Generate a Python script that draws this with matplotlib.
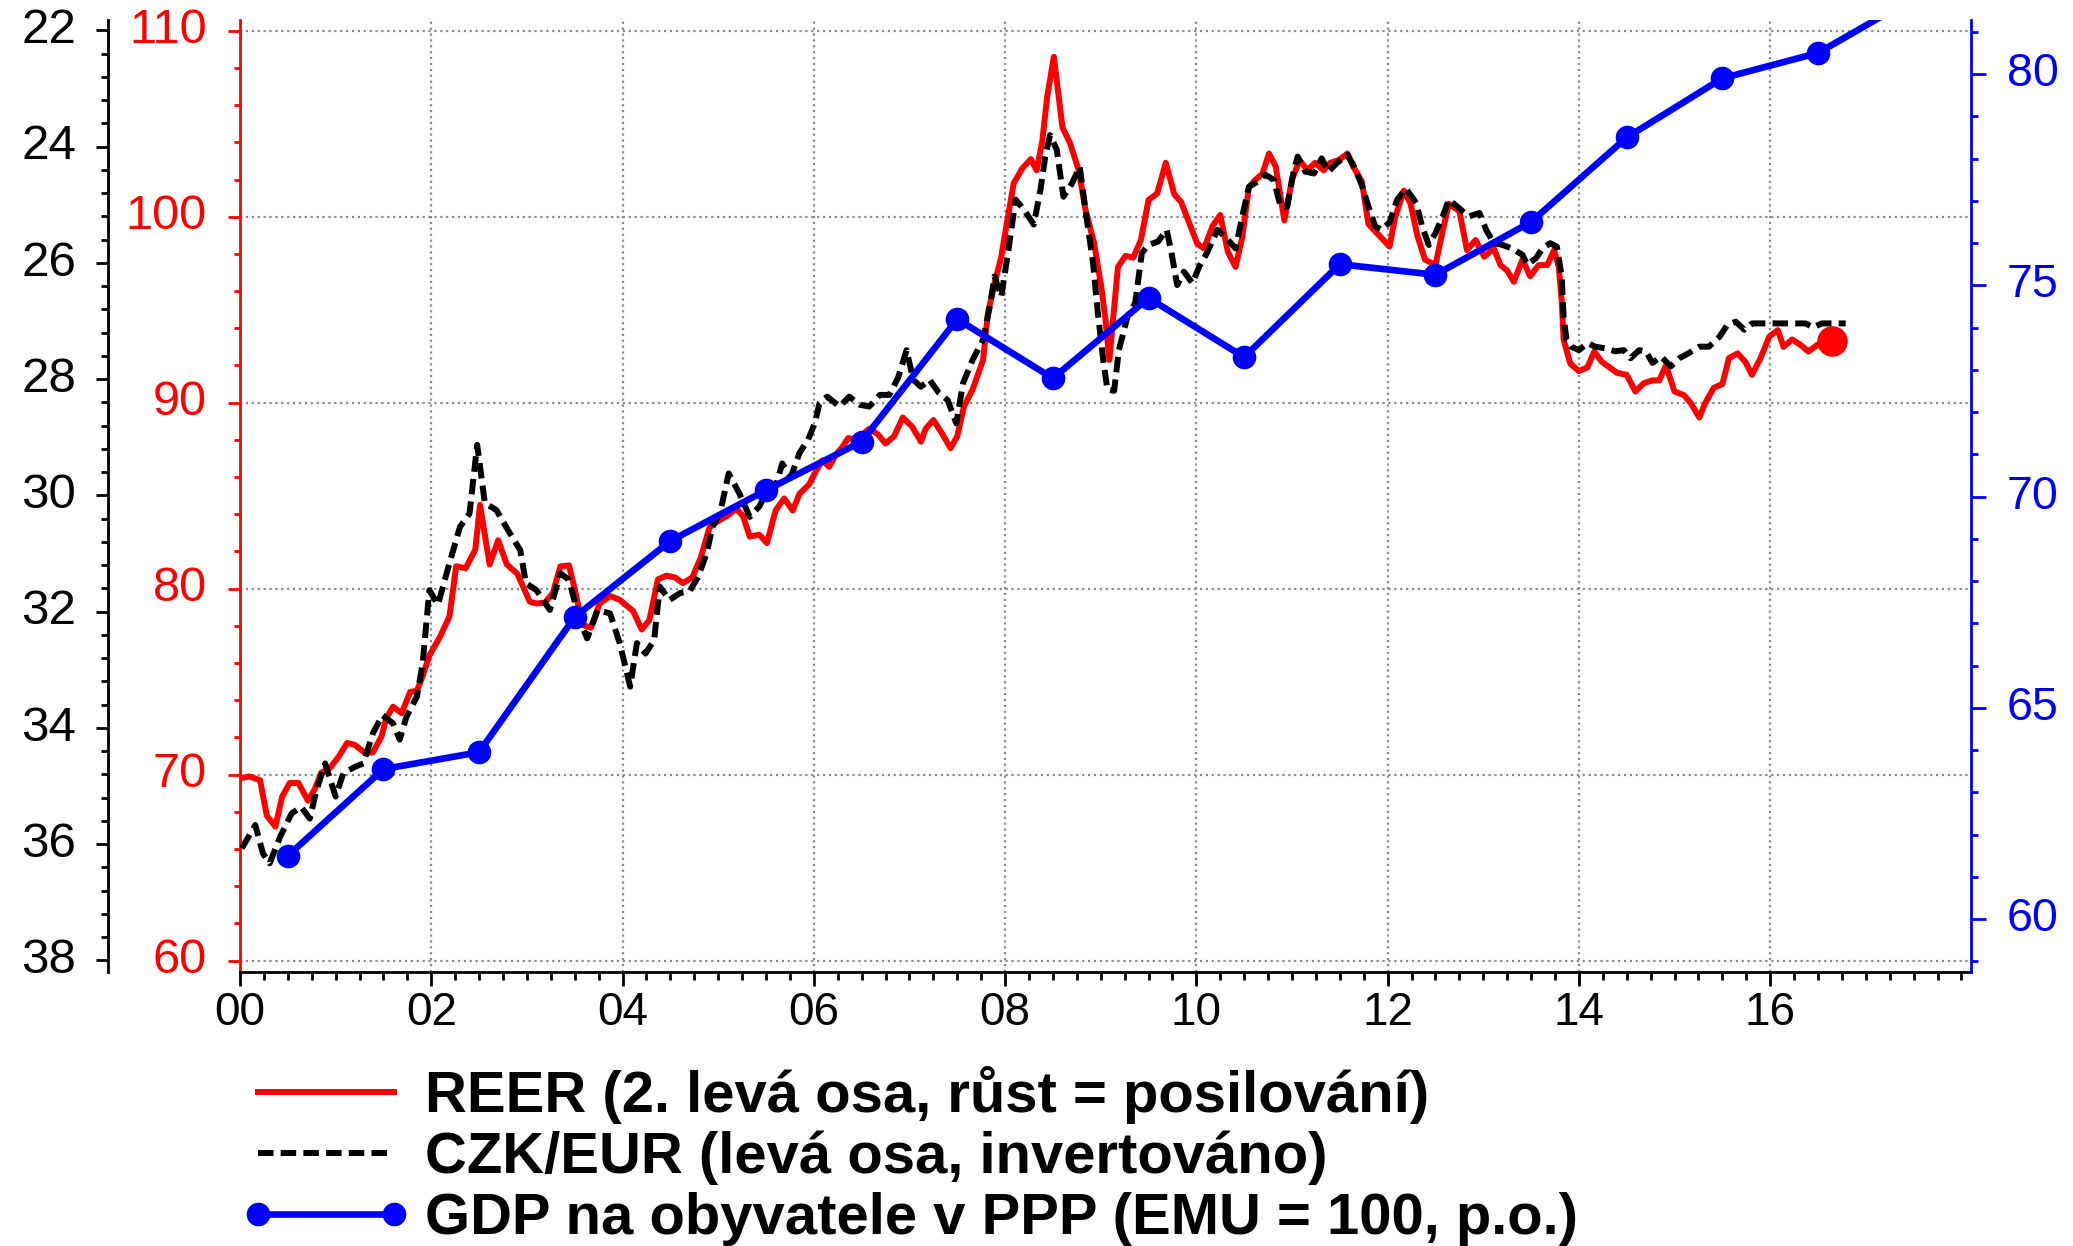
import matplotlib
matplotlib.use("Agg")
import matplotlib.pyplot as plt
from matplotlib.ticker import MultipleLocator, FixedLocator
from matplotlib.transforms import ScaledTranslation

plt.rcParams['font.family'] = ['Liberation Sans', 'DejaVu Sans']

# REER (2nd left axis), decimal years
reerYears = [2000.00, 2000.10, 2000.21, 2000.28, 2000.37, 2000.44, 2000.52, 2000.61, 2000.71, 2000.78,
             2000.85, 2000.94, 2001.03, 2001.12, 2001.20, 2001.31, 2001.39, 2001.48, 2001.53, 2001.60,
             2001.69, 2001.78, 2001.85, 2001.91, 2001.98, 2002.09, 2002.19, 2002.26, 2002.36, 2002.46,
             2002.51, 2002.61, 2002.70, 2002.79, 2002.90, 2003.03, 2003.10, 2003.19, 2003.27, 2003.35,
             2003.44, 2003.51, 2003.58, 2003.67, 2003.76, 2003.87, 2003.97, 2004.11, 2004.20, 2004.28,
             2004.37, 2004.46, 2004.55, 2004.63, 2004.73, 2004.82, 2004.91, 2005.02, 2005.09, 2005.19,
             2005.26, 2005.33, 2005.43, 2005.51, 2005.60, 2005.69, 2005.78, 2005.85, 2005.95, 2006.02,
             2006.09, 2006.16, 2006.23, 2006.30, 2006.36, 2006.44, 2006.58, 2006.67, 2006.75, 2006.84,
             2006.93, 2007.03, 2007.12, 2007.17, 2007.25, 2007.34, 2007.43, 2007.50, 2007.57, 2007.66,
             2007.77, 2007.82, 2007.89, 2007.96, 2008.03, 2008.09, 2008.18, 2008.27, 2008.33, 2008.39,
             2008.44, 2008.51, 2008.60, 2008.68, 2008.77, 2008.84, 2008.93, 2009.01, 2009.05, 2009.09,
             2009.18, 2009.26, 2009.34, 2009.42, 2009.50, 2009.59, 2009.68, 2009.77, 2009.84, 2009.93,
             2010.01, 2010.08, 2010.17, 2010.25, 2010.33, 2010.41, 2010.48, 2010.55, 2010.62, 2010.69,
             2010.76, 2010.83, 2010.92, 2011.00, 2011.08, 2011.16, 2011.24, 2011.33, 2011.40, 2011.49,
             2011.58, 2011.64, 2011.73, 2011.80, 2011.91, 2012.02, 2012.08, 2012.17, 2012.24, 2012.31,
             2012.39, 2012.50, 2012.57, 2012.64, 2012.75, 2012.83, 2012.92, 2013.01, 2013.11, 2013.18,
             2013.25, 2013.32, 2013.41, 2013.49, 2013.58, 2013.67, 2013.74, 2013.79, 2013.82, 2013.84,
             2013.91, 2014.00, 2014.09, 2014.16, 2014.24, 2014.32, 2014.40, 2014.50, 2014.59, 2014.68,
             2014.77, 2014.84, 2014.91, 2015.00, 2015.10, 2015.17, 2015.26, 2015.32, 2015.41, 2015.50,
             2015.57, 2015.66, 2015.74, 2015.81, 2015.90, 2015.99, 2016.08, 2016.14, 2016.23, 2016.32,
             2016.40, 2016.49, 2016.58, 2016.65]
reerValues = [69.8, 69.9, 69.7, 67.8, 67.2, 68.8, 69.55, 69.55, 68.6, 69.2,
              70.1, 70.35, 70.95, 71.7, 71.6, 71.15, 71.2, 72.05, 73.05, 73.65,
              73.3, 74.45, 74.5, 75.3, 76.4, 77.4, 78.5, 81.2, 81.1, 82.1,
              84.5, 81.3, 82.6, 81.3, 80.8, 79.3, 79.2, 79.25, 79.75, 81.2,
              81.25, 79.75, 78.05, 77.9, 79.2, 79.6, 79.4, 78.8, 77.8, 78.3,
              80.5, 80.7, 80.6, 80.3, 80.6, 81.7, 83.3, 83.7, 83.9, 84.3,
              83.9, 82.8, 82.9, 82.45, 84.2, 84.85, 84.2, 85.1, 85.6, 86.3,
              86.9, 86.55, 87.2, 87.63, 88.1, 88.0, 88.6, 88.3, 87.8, 88.2,
              89.2, 88.7, 87.9, 88.6, 89.07, 88.35, 87.55, 88.2, 89.8, 90.7,
              92.3, 94.8, 96.4, 97.85, 100.0, 101.8, 102.6, 103.1, 102.5, 104.1,
              106.45, 108.6, 104.8, 103.95, 102.5, 100.4, 98.6, 96.1, 94.45, 92.3,
              97.3, 97.9, 97.8, 98.75, 100.9, 101.25, 102.9, 101.2, 100.8, 99.6,
              98.55, 98.3, 99.5, 100.1, 98.1, 97.3, 98.9, 101.6, 102.0, 102.3,
              103.4, 102.7, 99.8, 102.0, 103.05, 102.5, 102.9, 102.5, 102.9, 103.05,
              103.4, 102.7, 101.9, 99.6, 99.0, 98.4, 100.0, 101.4, 100.7, 99.0,
              97.7, 97.4, 99.1, 100.7, 100.3, 98.2, 98.75, 97.85, 98.3, 97.4,
              97.1, 96.5, 97.7, 96.8, 97.4, 97.4, 98.2, 97.3, 95.5, 93.4,
              92.1, 91.7, 91.9, 92.75, 92.2, 91.9, 91.6, 91.5, 90.6, 91.05,
              91.2, 91.2, 92.0, 90.6, 90.4, 89.97, 89.2, 89.97, 90.8, 91.0,
              92.4, 92.65, 92.2, 91.5, 92.4, 93.55, 93.9, 93.0, 93.4, 93.1,
              92.75, 93.1, 93.3, 93.3]

# CZK/EUR (left axis, inverted)
czkYears = [2000.02, 2000.16, 2000.24, 2000.31, 2000.42, 2000.54, 2000.64, 2000.73, 2000.80, 2000.89,
            2001.00, 2001.08, 2001.20, 2001.29, 2001.39, 2001.49, 2001.60, 2001.67, 2001.74, 2001.85,
            2001.91, 2001.98, 2002.07, 2002.16, 2002.30, 2002.40, 2002.48, 2002.56, 2002.68, 2002.80,
            2002.93, 2002.99, 2003.10, 2003.24, 2003.35, 2003.44, 2003.55, 2003.63, 2003.74, 2003.87,
            2003.97, 2004.08, 2004.15, 2004.24, 2004.33, 2004.39, 2004.49, 2004.60, 2004.70, 2004.79,
            2004.88, 2004.94, 2005.02, 2005.11, 2005.22, 2005.33, 2005.43, 2005.50, 2005.60, 2005.67,
            2005.76, 2005.85, 2005.94, 2006.01, 2006.06, 2006.14, 2006.27, 2006.37, 2006.48, 2006.58,
            2006.69, 2006.79, 2006.88, 2006.97, 2007.04, 2007.12, 2007.21, 2007.31, 2007.40, 2007.49,
            2007.56, 2007.66, 2007.77, 2007.84, 2007.89, 2007.96, 2008.04, 2008.11, 2008.20, 2008.30,
            2008.37, 2008.42, 2008.47, 2008.54, 2008.61, 2008.70, 2008.78, 2008.85, 2008.92, 2008.97,
            2009.03, 2009.07, 2009.14, 2009.19, 2009.28, 2009.36, 2009.43, 2009.50, 2009.60, 2009.69,
            2009.74, 2009.80, 2009.87, 2009.96, 2010.03, 2010.11, 2010.22, 2010.33, 2010.41, 2010.48,
            2010.55, 2010.64, 2010.72, 2010.81, 2010.88, 2010.95, 2011.02, 2011.06, 2011.14, 2011.23,
            2011.31, 2011.38, 2011.47, 2011.58, 2011.64, 2011.73, 2011.80, 2011.87, 2011.94, 2012.02,
            2012.10, 2012.19, 2012.30, 2012.36, 2012.43, 2012.50, 2012.59, 2012.64, 2012.75, 2012.85,
            2012.96, 2013.03, 2013.11, 2013.20, 2013.30, 2013.41, 2013.46, 2013.55, 2013.62, 2013.70,
            2013.77, 2013.82, 2013.84, 2013.87, 2013.92, 2014.00, 2014.09, 2014.17, 2014.28, 2014.38,
            2014.47, 2014.54, 2014.63, 2014.70, 2014.77, 2014.86, 2014.96, 2015.05, 2015.15, 2015.26,
            2015.36, 2015.47, 2015.55, 2015.64, 2015.73, 2015.81, 2015.95, 2016.10, 2016.23, 2016.37,
            2016.45, 2016.54, 2016.65, 2016.79]
czkValues = [36.07, 35.67, 36.16, 36.33, 35.87, 35.47, 35.36, 35.56, 35.07, 34.61,
             35.18, 34.78, 34.67, 34.61, 34.09, 33.78, 33.92, 34.2, 33.81, 33.46,
             32.89, 31.63, 31.88, 31.34, 30.54, 30.31, 29.13, 30.13, 30.25, 30.59,
             30.94, 31.51, 31.63, 31.97, 31.34, 31.45, 32.14, 32.46, 31.97, 32.03,
             32.54, 33.29, 32.54, 32.72, 32.49, 31.57, 31.8, 31.68, 31.65, 31.4,
             30.99, 30.54, 30.3, 29.62, 29.96, 30.37, 30.19, 29.96, 29.85, 29.45,
             29.68, 29.27, 29.04, 28.76, 28.41, 28.3, 28.47, 28.3, 28.44, 28.47,
             28.27, 28.27, 27.98, 27.5, 28.01, 28.13, 28.01, 28.24, 28.36, 28.76,
             28.07, 27.67, 27.32, 26.75, 26.23, 26.58, 25.72, 24.91, 25.09, 25.34,
             24.74, 24.17, 23.8, 24.05, 24.86, 24.63, 24.34, 25.2, 26.0, 26.86,
             27.72, 28.18, 28.2, 27.5, 26.92, 26.69, 25.83, 25.69, 25.63, 25.43,
             25.83, 26.38, 26.15, 26.35, 26.06, 25.83, 25.43, 25.6, 25.75, 25.2,
             24.69, 24.6, 24.48, 24.57, 25.03, 25.03, 24.4, 24.17, 24.43, 24.46,
             24.2, 24.43, 24.28, 24.14, 24.31, 24.66, 25.03, 25.37, 25.43, 25.3,
             24.91, 24.72, 24.97, 25.37, 25.69, 25.49, 25.14, 24.91, 25.06, 25.2,
             25.14, 25.43, 25.66, 25.69, 25.75, 25.86, 26.03, 25.92, 25.75, 25.66,
             25.72, 26.23, 26.92, 27.32, 27.44, 27.5, 27.38, 27.44, 27.47, 27.52,
             27.5, 27.64, 27.5, 27.52, 27.72, 27.61, 27.78, 27.64, 27.55, 27.44,
             27.44, 27.27, 27.07, 27.01, 27.15, 27.04, 27.04, 27.04, 27.04, 27.04,
             27.11, 27.04, 27.04, 27.04]

# GDP per capita in PPP, EMU = 100 (right axis), mid-year points
gdpYears = [2000.5, 2001.5, 2002.5, 2003.5, 2004.5, 2005.5, 2006.5, 2007.5, 2008.5,
            2009.5, 2010.5, 2011.5, 2012.5, 2013.5, 2014.5, 2015.5, 2016.5, 2017.5]
gdpValues = [61.5, 63.55, 63.95, 67.15, 68.95, 70.15, 71.3, 74.2, 72.8,
             74.7, 73.3, 75.5, 75.25, 76.5, 78.5, 79.9, 80.5, 81.8]

xTickYears = [2000, 2002, 2004, 2006, 2008, 2010, 2012, 2014, 2016]
xTickLabels = ["00", "02", "04", "06", "08", "10", "12", "14", "16"]

legendLabels = ["REER (2. levá osa, růst = posilování)",
                "CZK/EUR (levá osa, invertováno)",
                "GDP na obyvatele v PPP (EMU = 100, p.o.)"]

RED = '#FF0000'
BLUE = '#0000FF'
W, H = 2073, 1246

fig = plt.figure(figsize=(W / 100, H / 100), dpi=100)
axLeft, axRight, axTop, axBottom = 240, 1971, 20, 971.5
ax = fig.add_axes([axLeft / W, 1 - axBottom / H, (axRight - axLeft) / W, (axBottom - axTop) / H])
axCzk = ax.twinx()
axGdp = ax.twinx()

# lines
lRed, = ax.plot(reerYears, reerValues, color=RED, lw=4.3, zorder=3)
ax.plot(reerYears[-1], reerValues[-1], 'o', color=RED, ms=21, zorder=4)
lBlack, = axCzk.plot(czkYears, czkValues, color='black', lw=4.3, ls=(0, (2.6, 1.2)))
lBlue, = axGdp.plot(gdpYears, gdpValues, color=BLUE, lw=4.8, marker='o', ms=16)

# x axis
ax.set_xlim(2000, 2018.1)
ax.xaxis.set_major_locator(FixedLocator(xTickYears))
ax.set_xticklabels(xTickLabels)
ax.xaxis.set_minor_locator(MultipleLocator(0.25))
ax.tick_params(axis='x', which='major', length=10, width=2, pad=4, labelsize=33, colors='black')
ax.tick_params(axis='x', which='minor', length=6, width=2)

# red axis
ax.set_ylim(59.41, 110.58)
ax.yaxis.set_major_locator(MultipleLocator(10))
ax.yaxis.set_minor_locator(MultipleLocator(2))
ax.tick_params(axis='y', which='major', length=9, width=2, pad=15, labelsize=35, colors=RED)
ax.tick_params(axis='y', which='minor', length=4.5, width=2, colors=RED)
ax.spines['left'].set_color(RED)
ax.spines['left'].set_linewidth(2)
ax.spines['bottom'].set_linewidth(2)
ax.spines['top'].set_visible(False)
ax.spines['right'].set_visible(False)
ax.grid(True, which='major', color='#8a8a8a', ls=':', lw=1.6)

# CZK/EUR axis, moved to the far left and inverted
axCzk.set_ylim(38.19, 21.82)
axCzk.yaxis.set_label_position('left')
axCzk.yaxis.tick_left()
axCzk.spines['left'].set_position(('axes', -132 / (axRight - axLeft)))
axCzk.spines['left'].set_linewidth(2)
for s in ['top', 'right', 'bottom']:
    axCzk.spines[s].set_visible(False)
axCzk.yaxis.set_major_locator(MultipleLocator(2))
axCzk.yaxis.set_minor_locator(MultipleLocator(0.4))
axCzk.tick_params(axis='y', which='major', length=9, width=2, pad=14, labelsize=35.5)
axCzk.tick_params(axis='y', which='minor', length=5, width=2)

# GDP axis on the right
axGdp.set_ylim(58.76, 81.28)
axGdp.yaxis.set_major_locator(MultipleLocator(5))
axGdp.yaxis.set_minor_locator(MultipleLocator(1))
axGdp.spines['right'].set_color(BLUE)
axGdp.spines['right'].set_linewidth(2)
for s in ['top', 'left', 'bottom']:
    axGdp.spines[s].set_visible(False)
axGdp.tick_params(axis='y', which='major', length=11, width=2, pad=15, labelsize=33.5, colors=BLUE)
axGdp.tick_params(axis='y', which='minor', length=5, width=2, colors=BLUE)

fig.legend([lRed, lBlack, lBlue], legendLabels, loc='upper left',
           bbox_to_anchor=(241 / W, 1 - 1066 / H), frameon=False, numpoints=2,
           borderpad=0, borderaxespad=0, handlelength=2.94, handletextpad=0.23,
           labelspacing=0.12, prop={'weight': 'bold', 'size': 41.8})

# y tick labels sit a little higher in the original
fig.canvas.draw()
shiftUp = ScaledTranslation(0, 3.5 / 72, fig.dpi_scale_trans)
for a in [ax, axCzk, axGdp]:
    for lab in a.get_yticklabels():
        lab.set_transform(lab.get_transform() + shiftUp)

fig.savefig('out.png', dpi=100)
